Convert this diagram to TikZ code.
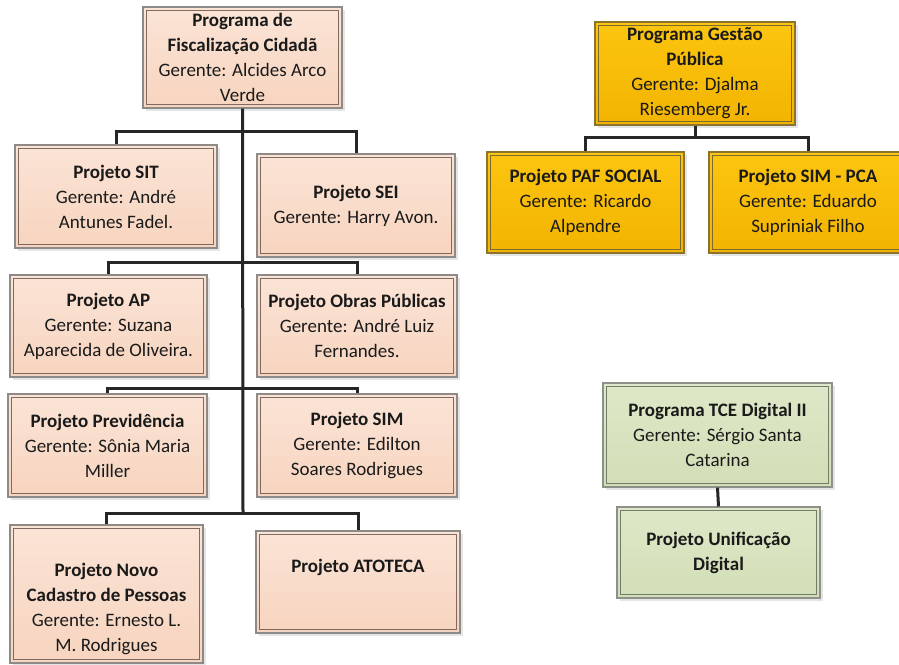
\documentclass[tikz,border=0pt]{standalone}
\usepackage{fontspec}
\setmainfont{Carlito}
\usetikzlibrary{shadows}
\definecolor{peachT}{HTML}{FBE4D6}
\definecolor{peachB}{HTML}{F7D4BF}
\definecolor{peachO}{HTML}{8E8A88}
\definecolor{peachI}{HTML}{7D6A60}
\definecolor{goldT}{HTML}{FCC510}
\definecolor{goldB}{HTML}{F2B400}
\definecolor{goldO}{HTML}{8A7430}
\definecolor{goldI}{HTML}{7A6A30}
\definecolor{greenT}{HTML}{DEE8C8}
\definecolor{greenB}{HTML}{D2DEB6}
\definecolor{greenO}{HTML}{8E918A}
\definecolor{greenI}{HTML}{747A6C}
\definecolor{txt}{HTML}{1A1A1A}
\tikzset{
  orgbox/.style n args={3}{draw=#3, line width=1.1pt, top color=#1, bottom color=#2,
    drop shadow={shadow xshift=3pt, shadow yshift=-3pt, fill=black!10, opacity=1},
    align=center, inner sep=0pt, text=txt,
    font=\fontsize{19}{25}\selectfont},
  inner/.style={path picture={\draw[#1, line width=1.1pt]
    ([xshift=3.5pt,yshift=-3.5pt]path picture bounding box.north west) rectangle
    ([xshift=-3.5pt,yshift=3.5pt]path picture bounding box.south east);}},
  peach/.style={orgbox={peachT}{peachB}{peachO}, inner=peachI},
  gold/.style={orgbox={goldT}{goldB}{goldO}, inner=goldI},
  green/.style={orgbox={greenT}{greenB}{greenO}, inner=greenI},
  conn/.style={draw=black!85, line width=3pt},
}
\begin{document}
\begin{tikzpicture}[x=1pt,y=-1pt]
\useasboundingbox[fill=white] (0,0) rectangle (899,664);
% left tree
\node[peach, minimum width=199pt, minimum height=101pt] (prog) at (242.5,57.5)
  {\textbf{Programa de}\\\textbf{Fiscalização Cidadã}\\Gerente: Alcides Arco\\Verde};
\node[peach, minimum width=202pt, minimum height=103pt] (sit) at (116,196.5)
  {\textbf{Projeto SIT}\\Gerente: André\\Antunes Fadel.};
\node[peach, minimum width=198pt, minimum height=103pt] (sei) at (356,205.5)
  {\textbf{Projeto SEI}\\Gerente: Harry Avon.};
\node[peach, minimum width=197pt, minimum height=102pt] (ap) at (108.5,326)
  {\textbf{Projeto AP}\\Gerente: Suzana\\Aparecida de Oliveira.};
\node[peach, minimum width=200pt, minimum height=102pt] (obras) at (357,326)
  {\textbf{Projeto Obras Públicas}\\Gerente: André Luiz\\Fernandes.};
\node[peach, minimum width=199pt, minimum height=103pt] (prev) at (107.5,445.5)
  {\textbf{Projeto Previdência}\\Gerente: Sônia Maria\\Miller};
\node[peach, minimum width=200pt, minimum height=103pt] (sim) at (357,445.5)
  {\textbf{Projeto SIM}\\Gerente: Edilton\\Soares Rodrigues};
\node[peach, minimum width=193pt, minimum height=138pt] (novo) at (106.5,594)
  {\strut\\\textbf{Projeto Novo}\\\textbf{Cadastro de Pessoas}\\Gerente: Ernesto L.\\M. Rodrigues};
\node[peach, minimum width=204pt, minimum height=102pt] (atoteca) at (358,582)
  {\textbf{Projeto ATOTECA}\\\strut};
% right trees
\node[gold, minimum width=200pt, minimum height=103pt] (gestao) at (695,73.5)
  {\textbf{Programa Gestão}\\\textbf{Pública}\\Gerente: Djalma\\Riesemberg Jr.};
\node[gold, minimum width=197pt, minimum height=101pt] (paf) at (585.5,202.5)
  {\textbf{Projeto PAF SOCIAL}\\Gerente: Ricardo\\Alpendre};
\node[gold, minimum width=198pt, minimum height=101pt] (simpca) at (808,202.5)
  {\textbf{Projeto SIM - PCA}\\Gerente: Eduardo\\Supriniak Filho};
\node[green, minimum width=229pt, minimum height=104pt] (tce) at (717.5,435)
  {\textbf{Programa TCE Digital II}\\Gerente: Sérgio Santa\\Catarina};
\node[green, minimum width=203pt, minimum height=91pt] (unif) at (718.5,552.5)
  {\textbf{Projeto Unificação}\\\textbf{Digital}};
% connectors
\coordinate (j1) at (243,131);
\coordinate (j2) at (243,262);
\coordinate (j3) at (243,388);
\coordinate (j4) at (243,513);
\draw[conn] (prog.south) -- (j4);
\draw[conn] (j1) -| (sit.north);
\draw[conn] (j1) -| (sei.north);
\draw[conn] (j2) -| (ap.north);
\draw[conn] (j2) -| (obras.north);
\draw[conn] (j3) -| (prev.north);
\draw[conn] (j3) -| (sim.north);
\draw[conn] (j4) -| (novo.north);
\draw[conn] (j4) -| (atoteca.north);
\coordinate (g1) at (695,137);
\draw[conn] (gestao.south) -- (g1);
\draw[conn] (g1) -| (paf.north);
\draw[conn] (g1) -| (simpca.north);
\draw[conn] (tce.south) -- (unif.north);
\end{tikzpicture}
\end{document}
